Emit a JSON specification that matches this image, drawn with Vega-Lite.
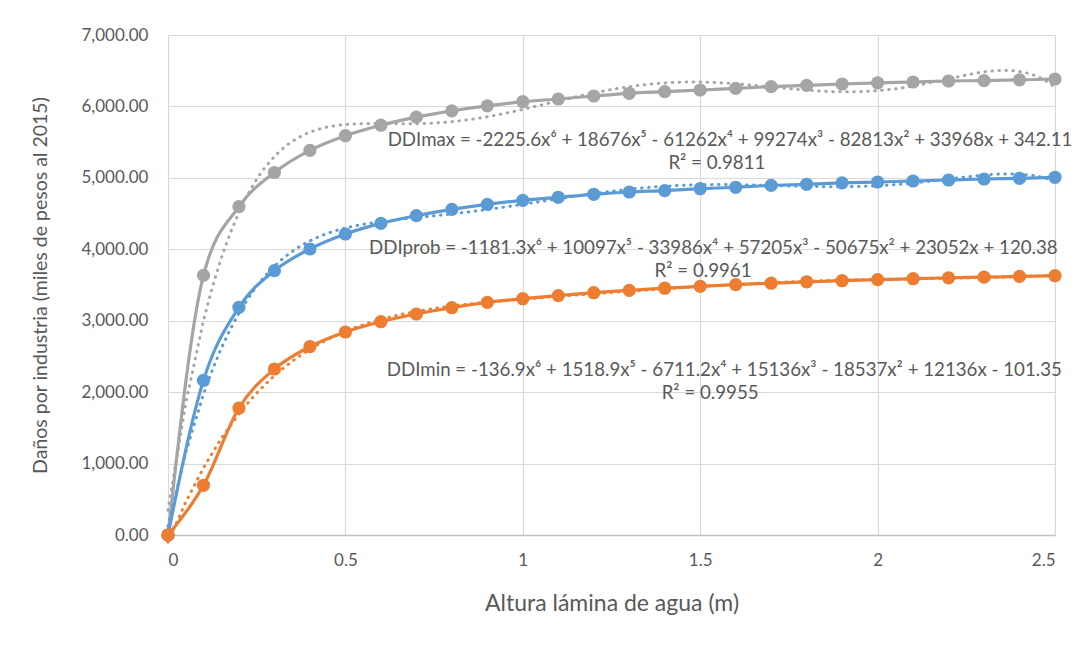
{
  "$schema": "https://vega.github.io/schema/vega-lite/v6.json",
  "autosize": "none",
  "width": 887,
  "height": 500,
  "padding": {"left": 168, "top": 35, "right": 34, "bottom": 110},
  "background": "white",
  "config": {
    "font": "Lato",
    "view": {"stroke": null},
    "axis": {
      "labelFont": "Lato",
      "titleFont": "Lato",
      "labelColor": "#595959",
      "titleColor": "#595959",
      "titleFontWeight": "normal",
      "gridColor": "#D9D9D9",
      "gridWidth": 1.2,
      "ticks": false
    },
    "text": {"font": "Lato", "fontSize": 18.7, "color": "#595959", "align": "center", "baseline": "middle"}
  },
  "datasets": {
    "damages": [
      {"x": 0.0, "y": 0, "series": "DDImax"},
      {"x": 0.1, "y": 3635, "series": "DDImax"},
      {"x": 0.2, "y": 4597, "series": "DDImax"},
      {"x": 0.3, "y": 5075, "series": "DDImax"},
      {"x": 0.4, "y": 5385, "series": "DDImax"},
      {"x": 0.5, "y": 5590, "series": "DDImax"},
      {"x": 0.6, "y": 5737, "series": "DDImax"},
      {"x": 0.7, "y": 5850, "series": "DDImax"},
      {"x": 0.8, "y": 5938, "series": "DDImax"},
      {"x": 0.9, "y": 6008, "series": "DDImax"},
      {"x": 1.0, "y": 6066, "series": "DDImax"},
      {"x": 1.1, "y": 6104, "series": "DDImax"},
      {"x": 1.2, "y": 6146, "series": "DDImax"},
      {"x": 1.3, "y": 6184, "series": "DDImax"},
      {"x": 1.4, "y": 6207, "series": "DDImax"},
      {"x": 1.5, "y": 6230, "series": "DDImax"},
      {"x": 1.6, "y": 6253, "series": "DDImax"},
      {"x": 1.7, "y": 6277, "series": "DDImax"},
      {"x": 1.8, "y": 6295, "series": "DDImax"},
      {"x": 1.9, "y": 6314, "series": "DDImax"},
      {"x": 2.0, "y": 6330, "series": "DDImax"},
      {"x": 2.1, "y": 6342, "series": "DDImax"},
      {"x": 2.2, "y": 6356, "series": "DDImax"},
      {"x": 2.3, "y": 6362, "series": "DDImax"},
      {"x": 2.4, "y": 6372, "series": "DDImax"},
      {"x": 2.5, "y": 6384, "series": "DDImax"},
      {"x": 0.0, "y": 0, "series": "DDIprob"},
      {"x": 0.1, "y": 2165, "series": "DDIprob"},
      {"x": 0.2, "y": 3188, "series": "DDIprob"},
      {"x": 0.3, "y": 3701, "series": "DDIprob"},
      {"x": 0.4, "y": 4004, "series": "DDIprob"},
      {"x": 0.5, "y": 4214, "series": "DDIprob"},
      {"x": 0.6, "y": 4363, "series": "DDIprob"},
      {"x": 0.7, "y": 4471, "series": "DDIprob"},
      {"x": 0.8, "y": 4559, "series": "DDIprob"},
      {"x": 0.9, "y": 4629, "series": "DDIprob"},
      {"x": 1.0, "y": 4685, "series": "DDIprob"},
      {"x": 1.1, "y": 4728, "series": "DDIprob"},
      {"x": 1.2, "y": 4770, "series": "DDIprob"},
      {"x": 1.3, "y": 4802, "series": "DDIprob"},
      {"x": 1.4, "y": 4822, "series": "DDIprob"},
      {"x": 1.5, "y": 4848, "series": "DDIprob"},
      {"x": 1.6, "y": 4868, "series": "DDIprob"},
      {"x": 1.7, "y": 4894, "series": "DDIprob"},
      {"x": 1.8, "y": 4910, "series": "DDIprob"},
      {"x": 1.9, "y": 4930, "series": "DDIprob"},
      {"x": 2.0, "y": 4942, "series": "DDIprob"},
      {"x": 2.1, "y": 4956, "series": "DDIprob"},
      {"x": 2.2, "y": 4970, "series": "DDIprob"},
      {"x": 2.3, "y": 4984, "series": "DDIprob"},
      {"x": 2.4, "y": 4994, "series": "DDIprob"},
      {"x": 2.5, "y": 5008, "series": "DDIprob"},
      {"x": 0.0, "y": 0, "series": "DDImin"},
      {"x": 0.1, "y": 696, "series": "DDImin"},
      {"x": 0.2, "y": 1778, "series": "DDImin"},
      {"x": 0.3, "y": 2324, "series": "DDImin"},
      {"x": 0.4, "y": 2637, "series": "DDImin"},
      {"x": 0.5, "y": 2842, "series": "DDImin"},
      {"x": 0.6, "y": 2986, "series": "DDImin"},
      {"x": 0.7, "y": 3094, "series": "DDImin"},
      {"x": 0.8, "y": 3182, "series": "DDImin"},
      {"x": 0.9, "y": 3257, "series": "DDImin"},
      {"x": 1.0, "y": 3308, "series": "DDImin"},
      {"x": 1.1, "y": 3352, "series": "DDImin"},
      {"x": 1.2, "y": 3392, "series": "DDImin"},
      {"x": 1.3, "y": 3425, "series": "DDImin"},
      {"x": 1.4, "y": 3455, "series": "DDImin"},
      {"x": 1.5, "y": 3480, "series": "DDImin"},
      {"x": 1.6, "y": 3505, "series": "DDImin"},
      {"x": 1.7, "y": 3525, "series": "DDImin"},
      {"x": 1.8, "y": 3545, "series": "DDImin"},
      {"x": 1.9, "y": 3560, "series": "DDImin"},
      {"x": 2.0, "y": 3575, "series": "DDImin"},
      {"x": 2.1, "y": 3588, "series": "DDImin"},
      {"x": 2.2, "y": 3600, "series": "DDImin"},
      {"x": 2.3, "y": 3610, "series": "DDImin"},
      {"x": 2.4, "y": 3620, "series": "DDImin"},
      {"x": 2.5, "y": 3630, "series": "DDImin"}
    ],
    "labels": [
      {"label": "DDImax = -2225.6x⁶ + 18676x⁵ - 61262x⁴ + 99274x³ - 82813x² + 33968x + 342.11", "series": "DDImax", "line": "eq"},
      {"label": "R² = 0.9811", "series": "DDImax", "line": "r2"},
      {"label": "DDIprob = -1181.3x⁶ + 10097x⁵ - 33986x⁴ + 57205x³ - 50675x² + 23052x + 120.38", "series": "DDIprob", "line": "eq"},
      {"label": "R² = 0.9961", "series": "DDIprob", "line": "r2"},
      {"label": "DDImin = -136.9x⁶ + 1518.9x⁵ - 6711.2x⁴ + 15136x³ - 18537x² + 12136x - 101.35", "series": "DDImin", "line": "eq"},
      {"label": "R² = 0.9955", "series": "DDImin", "line": "r2"}
    ]
  },
  "layer": [
    {
      "data": {"name": "damages"},
      "encoding": {
        "x": {
          "field": "x",
          "type": "quantitative",
          "scale": {"domain": [0, 2.5], "nice": false, "zero": false},
          "axis": {
            "title": "Altura lámina de agua (m)",
            "values": [0, 0.5, 1, 1.5, 2, 2.5],
            "format": "~g",
            "labelFontSize": 17,
            "labelPadding": 17,
            "titleFontSize": 23,
            "titlePadding": 24,
            "domainColor": "#BFBFBF",
            "domainWidth": 1.5
          }
        },
        "y": {
          "field": "y",
          "type": "quantitative",
          "scale": {"domain": [0, 7000], "nice": false},
          "axis": {
            "title": "Daños por industria (miles de pesos al 2015)",
            "values": [0, 1000, 2000, 3000, 4000, 5000, 6000, 7000],
            "format": ",.2f",
            "labelFontSize": 17,
            "labelPadding": 20,
            "titleFontSize": 19.5,
            "titleX": -128,
            "titleY": 250,
            "titleAngle": 270,
            "titleAlign": "center",
            "titleBaseline": "middle",
            "domain": false
          }
        },
        "color": {
          "field": "series",
          "type": "nominal",
          "scale": {"domain": ["DDImax", "DDIprob", "DDImin"], "range": ["#A5A5A5", "#5B9BD5", "#ED7D31"]},
          "legend": null
        }
      },
      "layer": [
        {
          "mark": {"type": "line", "interpolate": "monotone", "strokeWidth": 3.2}
        },
        {
          "transform": [
            {"regression": "y", "on": "x", "groupby": ["series"], "method": "poly", "order": 6, "extent": [0, 2.5]}
          ],
          "mark": {"type": "line", "strokeWidth": 3, "strokeDash": [0.5, 6.5], "strokeCap": "round"}
        },
        {
          "mark": {"type": "point", "shape": "circle", "filled": true, "size": 175, "opacity": 1}
        }
      ]
    },
    {
      "data": {"name": "labels"},
      "transform": [{"filter": "datum.series === 'DDImax' && datum.line === 'eq'"}],
      "mark": {"type": "text"},
      "encoding": {"x": {"datum": 1.584}, "y": {"datum": 5530}, "text": {"field": "label"}}
    },
    {
      "data": {"name": "labels"},
      "transform": [{"filter": "datum.series === 'DDImax' && datum.line === 'r2'"}],
      "mark": {"type": "text"},
      "encoding": {"x": {"datum": 1.547}, "y": {"datum": 5208}, "text": {"field": "label"}}
    },
    {
      "data": {"name": "labels"},
      "transform": [{"filter": "datum.series === 'DDIprob' && datum.line === 'eq'"}],
      "mark": {"type": "text"},
      "encoding": {"x": {"datum": 1.537}, "y": {"datum": 4018}, "text": {"field": "label"}}
    },
    {
      "data": {"name": "labels"},
      "transform": [{"filter": "datum.series === 'DDIprob' && datum.line === 'r2'"}],
      "mark": {"type": "text"},
      "encoding": {"x": {"datum": 1.508}, "y": {"datum": 3696}, "text": {"field": "label"}}
    },
    {
      "data": {"name": "labels"},
      "transform": [{"filter": "datum.series === 'DDImin' && datum.line === 'eq'"}],
      "mark": {"type": "text"},
      "encoding": {"x": {"datum": 1.568}, "y": {"datum": 2310}, "text": {"field": "label"}}
    },
    {
      "data": {"name": "labels"},
      "transform": [{"filter": "datum.series === 'DDImin' && datum.line === 'r2'"}],
      "mark": {"type": "text"},
      "encoding": {"x": {"datum": 1.528}, "y": {"datum": 1988}, "text": {"field": "label"}}
    }
  ]
}
